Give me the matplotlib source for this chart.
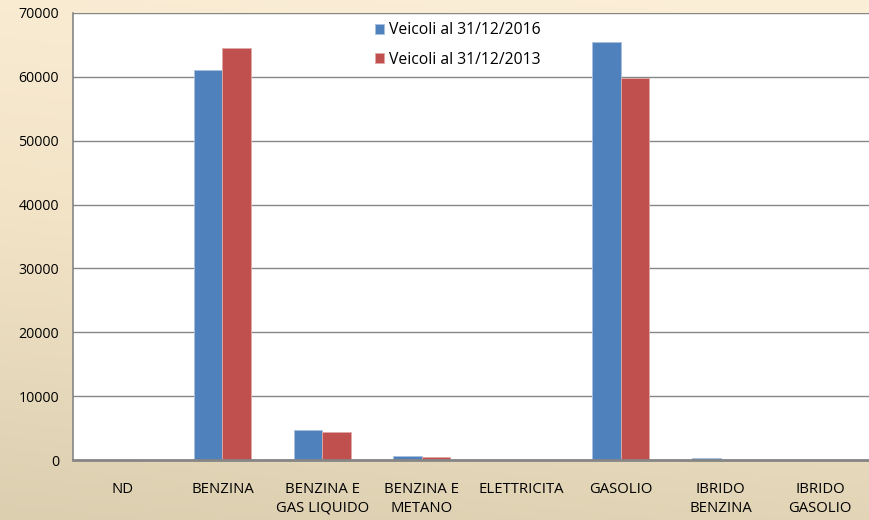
import numpy as np
import matplotlib.pyplot as plt
from matplotlib.colors import LinearSegmentedColormap

plt.rcParams["font.family"] = ["Open Sans", "DejaVu Sans"]

categories = ["ND", "BENZINA", "BENZINA E\nGAS LIQUIDO", "BENZINA E\nMETANO",
              "ELETTRICITA", "GASOLIO", "IBRIDO\nBENZINA", "IBRIDO\nGASOLIO"]
veicoli_2016 = [0, 61000, 4700, 550, 20, 65500, 300, 5]
veicoli_2013 = [0, 64500, 4400, 420, 10, 59800, 40, 2]
yticks = [0, 10000, 20000, 30000, 40000, 50000, 60000, 70000]

BLUE = "#4F81BD"
RED = "#C0504D"

fig = plt.figure(figsize=(8.7, 5.2), dpi=100)

# background gradient (cream at top-left to tan at bottom)
bg = fig.add_axes([0, 0, 1, 1], zorder=-10)
yy, xx = np.mgrid[0:1:200j, 0:1:200j]
grad = np.clip(0.85 * yy + 0.15 * xx, 0, 1)
cmap = LinearSegmentedColormap.from_list("bg", ["#DCCFB0", "#F2E3C6", "#FCEFD8"])
bg.imshow(grad, cmap=cmap, aspect="auto", extent=[0, 1, 0, 1], origin="lower")
bg.axis("off")

ax = fig.add_axes([73 / 870, 60 / 520, 1 - 73 / 870, 447 / 520])
ax.set_facecolor("white")

x = np.arange(len(categories))
w = 0.286
ax.bar(x - w / 2, veicoli_2016, w, color=BLUE, edgecolor="#A9C0DE", linewidth=0.6,
       label="Veicoli al 31/12/2016", zorder=3)
ax.bar(x + w / 2, veicoli_2013, w, color=RED, edgecolor="#E0A9A7", linewidth=0.6,
       label="Veicoli al 31/12/2013", zorder=3)

ax.set_xlim(-0.5, len(categories) - 0.5)
ax.set_ylim(0, 70000)
ax.set_yticks(yticks)
ax.set_xticks(x)
ax.set_xticklabels(categories, fontsize=10.7, linespacing=1.3)
ax.tick_params(axis="both", length=0)
ax.tick_params(axis="y", labelsize=10.2, pad=10)
ax.tick_params(axis="x", pad=16)
ax.yaxis.grid(True, color="#868686", linewidth=1, zorder=0)

for side in ["top", "right"]:
    ax.spines[side].set_visible(False)
ax.spines["left"].set_color("#868686")
ax.spines["left"].set_linewidth(1.2)
ax.spines["bottom"].set_color("#868686")
ax.spines["bottom"].set_linewidth(2)
ax.spines["bottom"].set_zorder(4)

ax.legend(loc="upper left", bbox_to_anchor=(0.361, 1.011), frameon=False,
          fontsize=11.3, handlelength=0.6, handleheight=0.6, handletextpad=0.3,
          labelspacing=0.85)

plt.savefig("out.png", dpi=100)
